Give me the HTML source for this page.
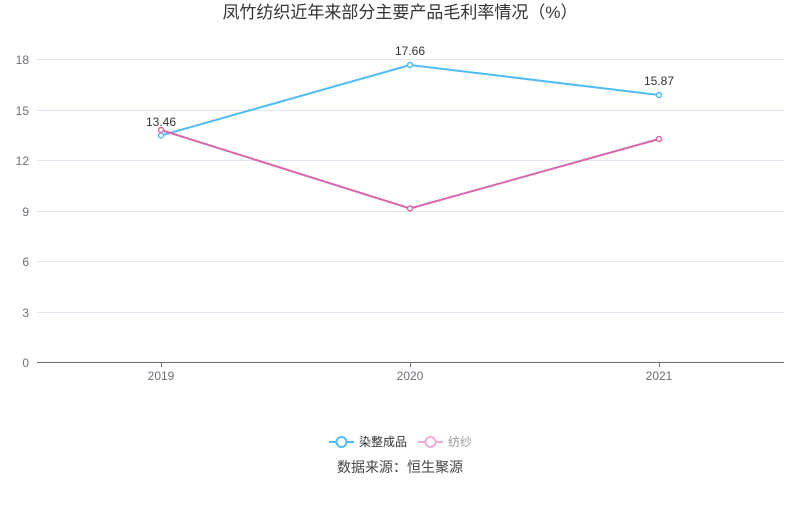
<!DOCTYPE html>
<html><head><meta charset="utf-8"><style>
body{margin:0;background:#fff;}
svg text{font-family:"Liberation Sans","Noto Sans CJK SC",sans-serif;}
</style></head><body>
<svg width="800" height="501" xmlns="http://www.w3.org/2000/svg">
<text x="400" y="18" text-anchor="middle" font-size="17" fill="#333">凤竹纺织近年来部分主要产品毛利率情况（%）</text>
<g stroke="#e0e6f1" stroke-width="1">
<line x1="37" x2="784" y1="59.5" y2="59.5"/>
<line x1="37" x2="784" y1="110.5" y2="110.5"/>
<line x1="37" x2="784" y1="160.5" y2="160.5"/>
<line x1="37" x2="784" y1="211.5" y2="211.5"/>
<line x1="37" x2="784" y1="261.5" y2="261.5"/>
<line x1="37" x2="784" y1="312.5" y2="312.5"/>
</g>
<line x1="37" x2="784" y1="362.5" y2="362.5" stroke="#6e7079"/>
<g stroke="#6e7079"><line x1="161.5" x2="161.5" y1="362" y2="367"/><line x1="410.5" x2="410.5" y1="362" y2="367"/><line x1="659.5" x2="659.5" y1="362" y2="367"/></g>
<g font-size="12" fill="#6e7079" text-anchor="end">
<text x="29" y="64">18</text><text x="29" y="115">15</text><text x="29" y="165">12</text>
<text x="29" y="216">9</text><text x="29" y="266">6</text><text x="29" y="317">3</text><text x="29" y="367">0</text>
</g>
<g font-size="12" fill="#6e7079" text-anchor="middle">
<text x="161" y="380">2019</text><text x="410" y="380">2020</text><text x="659" y="380">2021</text>
</g>
<polyline points="161,135.5 410,65 659,95" fill="none" stroke="#4fbcf7" stroke-width="2"/>
<polyline points="161,130 410,208.5 659,139" fill="none" stroke="#d966a8" stroke-width="2"/>
<g fill="#fff" stroke="#4fbcf7" stroke-width="1.5">
<circle cx="161" cy="135.5" r="2.5"/><circle cx="410" cy="65" r="2.5"/><circle cx="659" cy="95" r="2.5"/></g>
<g fill="#fff" stroke="#d966a8" stroke-width="1.5">
<circle cx="161" cy="130" r="2.5"/><circle cx="410" cy="208.5" r="2.5"/><circle cx="659" cy="139" r="2.5"/></g>
<g font-size="12" fill="#333" text-anchor="middle">
<text x="161" y="126">13.46</text><text x="410" y="55">17.66</text><text x="659" y="85">15.87</text>
</g>
<line x1="329" x2="354" y1="442" y2="442" stroke="#4fbcf7" stroke-width="2"/>
<circle cx="341.5" cy="442" r="5" fill="#fff" stroke="#4fbcf7" stroke-width="2"/>
<text x="359" y="446" font-size="12" fill="#333">染整成品</text>
<line x1="418" x2="443" y1="442" y2="442" stroke="#eeaed3" stroke-width="2"/>
<circle cx="430.5" cy="442" r="5" fill="#fff" stroke="#eeaed3" stroke-width="2"/>
<text x="448" y="446" font-size="12" fill="#999">纺纱</text>
<text x="400" y="472" text-anchor="middle" font-size="14" fill="#444">数据来源：恒生聚源</text>
</svg>
</body></html>
